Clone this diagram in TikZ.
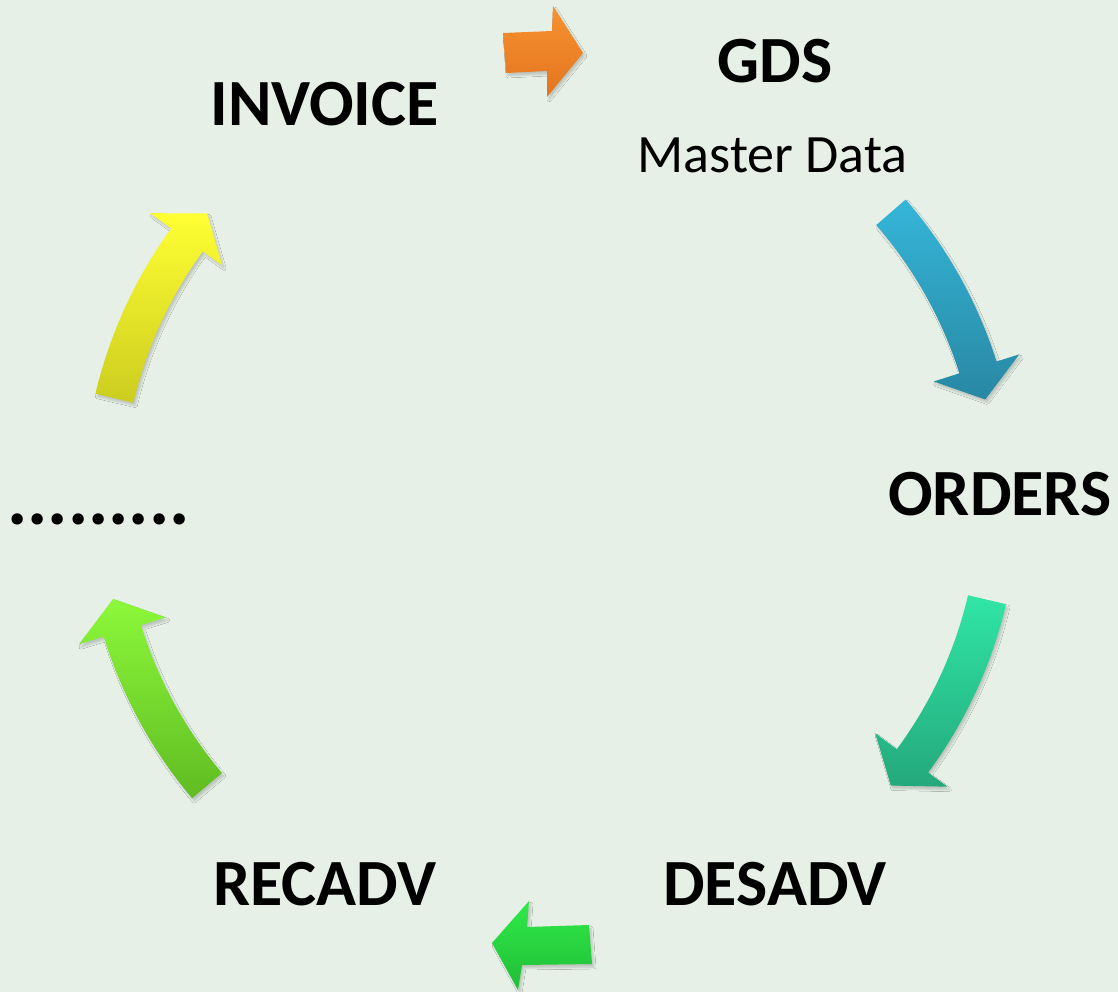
\documentclass[tikz,border=0pt]{standalone}
\usepackage{fontspec}
\setmainfont{Carlito}
\usetikzlibrary{shadows.blur}
\definecolor{bgc}{RGB}{230,240,230}
\definecolor{orT}{RGB}{247,146,47}\definecolor{orB}{RGB}{228,116,31}
\definecolor{blT}{RGB}{53,181,216}\definecolor{blB}{RGB}{40,136,163}
\definecolor{teT}{RGB}{48,230,166}\definecolor{teB}{RGB}{36,168,124}
\definecolor{grT}{RGB}{48,234,72}\definecolor{grB}{RGB}{31,189,54}
\definecolor{lgT}{RGB}{140,248,58}\definecolor{lgB}{RGB}{96,188,34}
\definecolor{yeT}{RGB}{255,255,51}\definecolor{yeB}{RGB}{204,204,31}
\tikzset{
  arrowshape/.style={blur shadow={shadow xshift=2pt,shadow yshift=-3pt,shadow blur steps=6,shadow opacity=18}},
  label/.style={inner sep=0pt,anchor=base,font=\bfseries\fontsize{66}{66}\selectfont},
  sublabel/.style={inner sep=0pt,anchor=base,font=\fontsize{54}{54}\selectfont},
  dotlabel/.style={inner sep=0pt,anchor=base,font=\bfseries\fontsize{76}{76}\selectfont},
}
\begin{document}
\begin{tikzpicture}[x=1pt,y=1pt]
\fill[bgc] (0,0) rectangle (1118,-992);
\useasboundingbox (0,0) rectangle (1118,-992);
% straight arrows
\path[arrowshape,top color=orT,bottom color=orB] (503,-33) -- (552,-31) -- (553,-6) -- (583,-53) -- (547,-97) -- (547,-71) -- (506,-73) -- cycle;
\path[arrowshape,top color=grT,bottom color=grB] (492,-943) -- (529,-901) -- (527,-927) -- (589,-925) -- (592,-964) -- (522,-965) -- (518,-990) -- cycle;
% right side curved arrows
\begin{scope}[shift={(560,-500)}]
\path[arrowshape,top color=blT,bottom color=blB] (41:419pt) -- (41:458pt) arc[start angle=41,end angle=17.6,radius=458pt] -- (17.6:482pt) -- (13.3:437pt) -- (17.6:392pt) -- (17.6:419pt) arc[start angle=17.6,end angle=41,radius=419pt] -- cycle;
\path[arrowshape,top color=teT,bottom color=teB] (-13.15:419pt) -- (-13.15:458pt) arc[start angle=-13.15,end angle=-36.5,radius=458pt] -- (-36.5:482pt) -- (-40.8:437pt) -- (-36.5:392pt) -- (-36.5:419pt) arc[start angle=-36.5,end angle=-13.15,radius=419pt] -- cycle;
\end{scope}
% left side curved arrows
\begin{scope}[shift={(545,-500)}]
\path[arrowshape,top color=lgT,bottom color=lgB] (220.2:423pt) -- (220.2:462pt) arc[start angle=220.2,end angle=197.2,radius=462pt] -- (197.2:488pt) -- (192.9:443pt) -- (197.2:397pt) -- (197.2:423pt) arc[start angle=197.2,end angle=220.2,radius=423pt] -- cycle;
\path[arrowshape,top color=yeT,bottom color=yeB] (166.7:462pt) -- (166.7:423pt) arc[start angle=166.7,end angle=144,radius=423pt] -- (144:399pt) -- (139.7:443pt) -- (144:488pt) -- (144:462pt) arc[start angle=144,end angle=166.7,radius=462pt] -- cycle;
\end{scope}
% labels
\node[label] (gds) at (775,-83) {GDS};
\node[sublabel] (md) at (772.5,-173) {Master Data};
\node[label] (invoice) at (324.5,-126) {INVOICE};
\node[label] (orders) at (1000,-515) {ORDERS};
\node[label] (desadv) at (775,-905) {DESADV};
\node[label] (recadv) at (325,-905) {RECADV};
\node[dotlabel] (dots) at (98.5,-524) {.........};
\end{tikzpicture}
\end{document}
